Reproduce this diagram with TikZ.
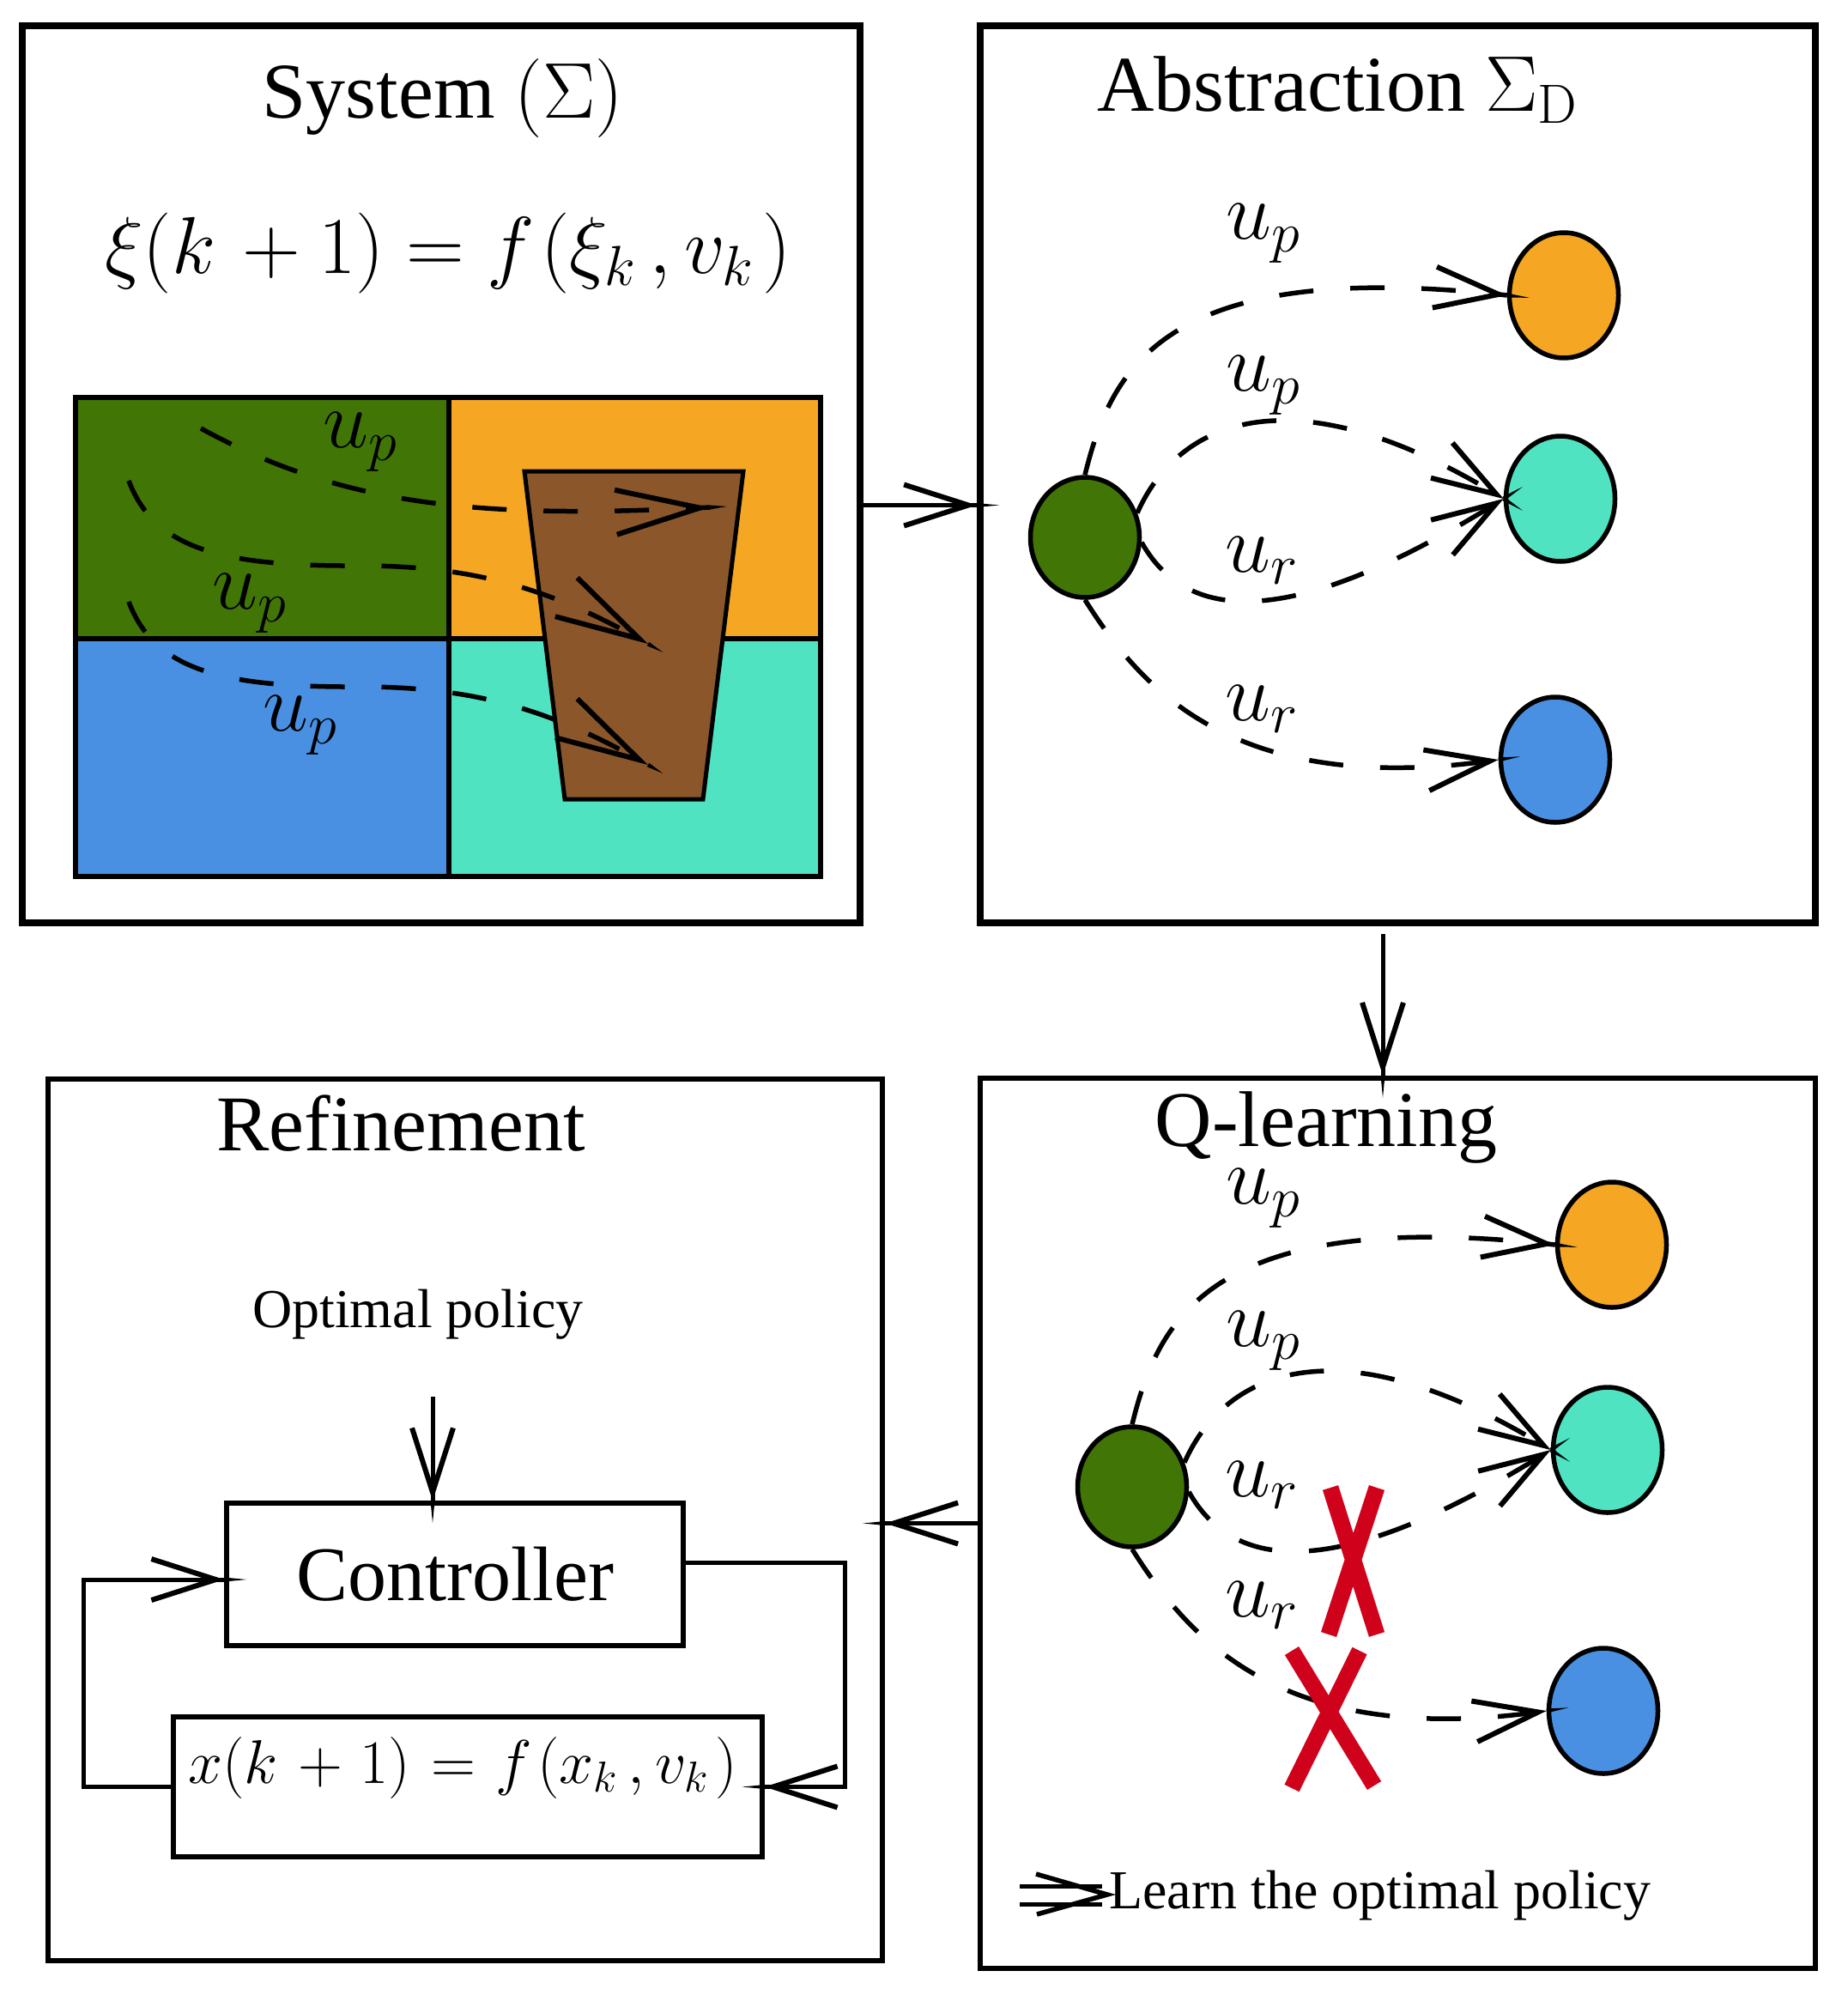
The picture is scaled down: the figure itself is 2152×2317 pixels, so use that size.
\documentclass[tikz,border=0pt]{standalone}
\usepackage{fix-cm}
\usepackage[no-math]{fontspec}
\setmainfont{Liberation Serif}
\usetikzlibrary{arrows.meta,shapes.geometric}
\definecolor{cgreen}{HTML}{417505}
\definecolor{corange}{HTML}{F5A623}
\definecolor{cblue}{HTML}{4A90E2}
\definecolor{cteal}{HTML}{50E3C2}
\definecolor{cbrown}{HTML}{8B572A}
\definecolor{cred}{HTML}{D0021B}
\newcommand{\myfs}[1]{\fontsize{#1}{#1}\selectfont}
\begin{document}
\begin{tikzpicture}[x=1pt,y=-1pt,
  panel/.style={draw,inner sep=0pt,line width=8pt},
  lowpanel/.style={draw,inner sep=0pt,line width=6.5pt},
  txt/.style={inner sep=0pt,anchor=base},
  ttl/.style={txt,font=\myfs{92}},
  smalltxt/.style={txt,font=\myfs{64}},
  lbl/.style={inner sep=0pt,font=\myfs{95}},
  stnode/.style={ellipse,draw,line width=5.5pt,inner sep=0pt,minimum width=127pt,minimum height=146pt},
  arrowend/.style={-{Straight Barb[length=75pt,width=48pt,line width=6pt,sep=0pt]Triangle[length=26pt,width=5pt,line width=0pt]},shorten >=-26pt},
  bigarrowend/.style={-{Straight Barb[length=98pt,width=52pt,line width=6pt,sep=0pt]Triangle[length=20pt,width=5pt,line width=0pt]},shorten >=-20pt},
  conn/.style={line width=5pt,arrowend},
  dedge/.style={line width=5.5pt,dash pattern=on 40pt off 43pt,arrowend},
  gedge/.style={line width=5.5pt,dash pattern=on 40pt off 43pt,bigarrowend},
  redx/.style={cred,line width=19pt},
  blk/.style={draw,line width=5.5pt,inner sep=0pt}
]
\useasboundingbox (0,0) rectangle (2152,2317);

% panels
\node[panel,minimum width=976pt,minimum height=1045pt] (sys) at (514,552.5) {};
\node[panel,minimum width=973pt,minimum height=1045pt] (abs) at (1628.5,552.5) {};
\node[lowpanel,minimum width=972pt,minimum height=1027pt] (ref) at (542,1770.5) {};
\node[lowpanel,minimum width=973pt,minimum height=1037pt] (ql) at (1628.5,1774.5) {};

% titles
\node[ttl] (systitle) at (516,138) {System $(\Sigma)$};
\node[txt,font=\myfs{94}] (syseq) at (522,318) {$\xi(k\mkern2mu+1)=f\mkern1.5mu(\xi_k\mkern3mu,v_k\mkern2mu)$};
\node[ttl] (abstitle) at (1558,130) {Abstraction $\Sigma_{\mathrm{D}}$};
\node[ttl] (reftitle) at (467,1340) {Refinement};
\node[ttl] (qltitle) at (1545,1335) {Q-learning};

% system grid
\fill[cgreen] (88,463) rectangle (523,744);
\fill[corange] (523,463) rectangle (956,744);
\fill[cblue] (88,744) rectangle (523,1021);
\fill[cteal] (523,744) rectangle (956,1021);
\draw[line width=6pt] (88,463) rectangle (956,1021) (523,463) -- (523,1021) (88,744) -- (956,744);
\draw[fill=cbrown,line width=5pt] (611,549) -- (866,549) -- (819,931) -- (658,931) -- cycle;

\coordinate (sA) at (234,499); \coordinate (eA) at (827,591);
\coordinate (sB) at (150,560); \coordinate (mB) at (420,659); \coordinate (eB) at (755,750);
\coordinate (sC) at (150,701); \coordinate (mC) at (420,800); \coordinate (eC) at (755,891);
\draw[gedge] (sA) .. controls +(166,91) and +(-267,14) .. (eA);
\draw[gedge] (sB) .. controls +(30,80) and +(-160,1) .. (mB) .. controls +(140,0) and +(-105,-60) .. (eB);
\draw[gedge] (sC) .. controls +(30,80) and +(-160,1) .. (mC) .. controls +(140,0) and +(-105,-60) .. (eC);
\node[lbl] (g1) at (420,515) {$u_p$};
\node[lbl] (g2) at (291,703) {$u_p$};
\node[lbl] (g3) at (350,845) {$u_p$};

% abstraction graph
\node[stnode,fill=cgreen,minimum height=140pt] (ag) at (1264,626) {};
\node[stnode,fill=corange] (ao) at (1822,344) {};
\node[stnode,fill=cteal] (at) at (1818,581) {};
\node[stnode,fill=cblue] (ab) at (1812,885) {};
\draw[dedge] (ag.north) .. controls +(31,-126) and +(-398,-44) .. (ao.west);
\draw[dedge] (ag.25) .. controls +(48,-109) and +(-244,-151) .. (at.west);
\draw[dedge] (ag.-5) .. controls +(63,113) and +(-209,131) .. (at.west);
\draw[dedge] (ag.south) .. controls +(66,104) and +(-308,45) .. (ab.west);
\node[lbl] (a1) at (1472,272) {$u_p$};
\node[lbl] (a2) at (1472,449) {$u_p$};
\node[lbl] (a3) at (1470,653) {$u_r$};
\node[lbl] (a4) at (1470,826) {$u_r$};

% q-learning graph
\node[stnode,fill=cgreen,minimum height=140pt] (qg) at (1319,1732) {};
\node[stnode,fill=corange] (qo) at (1878,1450) {};
\node[stnode,fill=cteal] (qt) at (1873,1689) {};
\node[stnode,fill=cblue] (qb) at (1868,1993) {};
\draw[dedge] (qg.north) .. controls +(31,-126) and +(-398,-44) .. (qo.west);
\draw[dedge] (qg.25) .. controls +(48,-109) and +(-244,-151) .. (qt.west);
\draw[dedge] (qg.-5) .. controls +(63,113) and +(-209,131) .. (qt.west);
\draw[dedge] (qg.south) .. controls +(66,104) and +(-308,45) .. (qb.west);
\node[lbl] (q1) at (1472,1396) {$u_p$};
\node[lbl] (q2) at (1472,1562) {$u_p$};
\node[lbl] (q3) at (1470,1730) {$u_r$};
\node[lbl] (q4) at (1470,1870) {$u_r$};
\draw[redx] (1550,1733) -- (1604,1904) (1604,1733) -- (1548,1904);
\draw[redx] (1505,1923) -- (1601,2080) (1584,1923) -- (1505,2083);

% legend
\node[smalltxt,anchor=base west] (learn) at (1292,2223) {Learn the optimal policy};
\coordinate (lt) at (1290,2207);
\draw[line width=5pt] (1188,2197) -- (1284,2197) (1188,2218) -- (1284,2218);
\draw[line width=5.5pt] (1207,2183) -- (lt) -- (1208,2230);

% refinement
\node[smalltxt] (opt) at (487,1546) {Optimal policy};
\node[blk,minimum width=532pt,minimum height=166pt,font=\myfs{90}] (ctrl) at (530,1834) {Controller};
\node[blk,minimum width=686pt,minimum height=163pt] (plant) at (545,2081.5) {};
\node[txt,font=\myfs{72}] (planteq) at (539,2077) {$x(k\mkern2mu+\mkern1mu1)\mkern1mu=\mkern1mu f\mkern1.5mu(x_k\mkern3mu,v_k\mkern2mu)$};
\coordinate (optarrow) at ([xshift=17pt,yshift=-67pt]opt.south);
\draw[conn] (optarrow) -- (optarrow |- ctrl.north);
\draw[conn] ([yshift=14pt]ctrl.east) -- ++(186,0) |- (plant.east);
\draw[conn] (plant.west) -- ++(-102,0) |- ([yshift=-6pt]ctrl.west);

% panel connectors
\draw[conn] ([yshift=-36pt]sys.east) -- ([yshift=-36pt]abs.west);
\draw[conn,shorten <=9pt] ([xshift=-17.5pt]abs.south) -- ([xshift=-17.5pt]ql.north);
\draw[conn] (ql.west) -- (ql.west -| ref.east);
\end{tikzpicture}
\end{document}
